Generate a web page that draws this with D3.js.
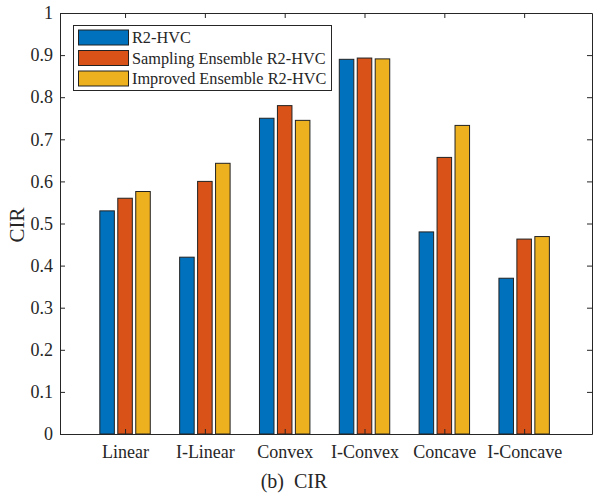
<!DOCTYPE html>
<html><head><meta charset="utf-8">
<script src="https://cdn.jsdelivr.net/npm/d3@7"></script>
<style>body{margin:0;background:#fff}svg{display:block}text{font-family:"Liberation Serif",Times,serif;fill:#262626}</style>
</head><body><svg id="c" width="593" height="495"></svg>
<script>
const categories = ["Linear","I-Linear","Convex","I-Convex","Concave","I-Concave"];
const seriesNames = ["R2-HVC","Sampling Ensemble R2-HVC","Improved Ensemble R2-HVC"];
const r2hvc    = [0.53, 0.42, 0.75, 0.89, 0.48, 0.37];
const sampling = [0.56, 0.60, 0.78, 0.893, 0.657, 0.463];
const improved = [0.576, 0.643, 0.745, 0.891, 0.733, 0.469];
const yTicks = [0,0.1,0.2,0.3,0.4,0.5,0.6,0.7,0.8,0.9,1];
const colors = ["#0072BD","#D95319","#EDB120"];
const series = [r2hvc, sampling, improved];

const svg = d3.select("#c");
const L=60, R=592, T=13, B=434;
const x = d3.scaleLinear().domain([0.185, 6.85]).range([L, R]);
const y = d3.scaleLinear().domain([0,1]).range([B, T]);
const off = [-0.225, 0, 0.225], bw = 0.182;

series.forEach((s, si) => {
  svg.append("g").selectAll("rect").data(s).join("rect")
    .attr("x", (d,i) => x(i+1+off[si]-bw/2))
    .attr("width", x(bw)-x(0))
    .attr("y", d => y(d))
    .attr("height", d => y(0)-y(d))
    .attr("fill", colors[si])
    .attr("stroke", "#222").attr("stroke-width", 1);
});

const ax = "#262626";
const gl = svg.append("g").attr("transform",`translate(${L},0)`)
  .call(d3.axisLeft(y).tickValues(yTicks).tickFormat(d3.format("")).tickSizeInner(-5).tickSizeOuter(0).tickPadding(7));
const gr = svg.append("g").attr("transform",`translate(${R},0)`)
  .call(d3.axisRight(y).tickValues(yTicks).tickFormat("").tickSizeInner(-5).tickSizeOuter(0));
const gb = svg.append("g").attr("transform",`translate(0,${B})`)
  .call(d3.axisBottom(x).tickValues(d3.range(1,7)).tickFormat((d)=>categories[d-1]).tickSizeInner(-5).tickSizeOuter(0).tickPadding(11));
const gt = svg.append("g").attr("transform",`translate(0,${T})`)
  .call(d3.axisTop(x).tickValues(d3.range(1,7)).tickFormat("").tickSizeInner(-5).tickSizeOuter(0));
[gl,gr,gb,gt].forEach(g=>{
  g.attr("font-family",null);
  g.selectAll("path").attr("stroke",ax).attr("stroke-width",1);
  g.selectAll("line").attr("stroke",ax).attr("stroke-width",1);
  g.selectAll("text").style("font-size","18px").style("font-family","'Liberation Serif',Times,serif").attr("fill","#262626");
});

svg.append("text").attr("transform","translate(24,225) rotate(-90)")
  .attr("text-anchor","middle").style("font-size","21px").text("CIR");
svg.append("text").attr("x",294).attr("y",488).attr("text-anchor","middle")
  .style("font-size","20px").style("white-space","pre").text("(b)  CIR");

const lg = svg.append("g");
lg.append("rect").attr("x",73.5).attr("y",25.5).attr("width",258).attr("height",65)
  .attr("fill","#fff").attr("stroke","#262626").attr("stroke-width",1);
seriesNames.forEach((n,i)=>{
  const cy = 37.5 + i*20.5;
  lg.append("rect").attr("x",78.5).attr("y",cy-7.5).attr("width",50).attr("height",15)
    .attr("fill",colors[i]).attr("stroke","#222").attr("stroke-width",1);
  lg.append("text").attr("x",132).attr("y",cy+5.5).style("font-size","16.3px").text(n);
});
</script></body></html>
